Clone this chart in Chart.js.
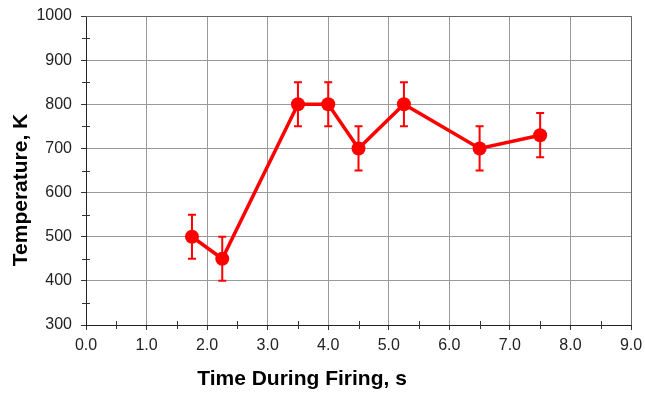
<!DOCTYPE html>
<html>
<head>
<meta charset="utf-8">
<script src="https://cdn.jsdelivr.net/npm/chart.js@4"></script>
<style>
  html, body { margin: 0; padding: 0; background: #fff; }
  canvas { display: block; }
</style>
</head>
<body>
<canvas id="TempChart" width="645" height="398"></canvas>
<script>
// measured temperature during firing, with +/- error
const timeS = [1.75, 2.25, 3.5, 4.0, 4.5, 5.25, 6.5, 7.5];
const tempK = [500, 450, 800, 800, 700, 800, 700, 730];
const errK = [50, 50, 50, 50, 50, 50, 50, 50];

const xTicks = [0, 1, 2, 3, 4, 5, 6, 7, 8, 9];
const yTicks = [300, 400, 500, 600, 700, 800, 900, 1000];

const points = timeS.map((t, i) => ({ x: t, y: tempK[i] }));

const errorBars = {
    id: 'errorBars',
    beforeDatasetsDraw(chart) {
        const ctx = chart.ctx;
        const xs = chart.scales.x, ys = chart.scales.y;
        ctx.save();
        ctx.strokeStyle = '#ff0000';
        ctx.lineWidth = 2;
        timeS.forEach((t, i) => {
            const px = xs.getPixelForValue(t);
            const top = ys.getPixelForValue(tempK[i] + errK[i]);
            const bot = ys.getPixelForValue(tempK[i] - errK[i]);
            ctx.beginPath();
            ctx.moveTo(px, top); ctx.lineTo(px, bot);
            ctx.moveTo(px - 4, top); ctx.lineTo(px + 4, top);
            ctx.moveTo(px - 4, bot); ctx.lineTo(px + 4, bot);
            ctx.stroke();
        });
        ctx.restore();
    }
};

// frame, minor ticks and axis titles
const decorations = {
    id: 'decorations',
    afterDraw(chart) {
        const ctx = chart.ctx;
        const a = chart.chartArea;
        const xs = chart.scales.x, ys = chart.scales.y;
        ctx.save();
        ctx.strokeStyle = '#666';
        ctx.lineWidth = 1;
        ctx.beginPath();
        ctx.moveTo(a.left, a.top + 0.5); ctx.lineTo(a.right + 0.5, a.top + 0.5);
        ctx.lineTo(a.right + 0.5, a.bottom);
        ctx.stroke();

        ctx.strokeStyle = '#333';
        ctx.beginPath();
        for (let v = 350; v < 1000; v += 100) {
            const py = Math.round(ys.getPixelForValue(v)) + 0.5;
            ctx.moveTo(a.left - 4, py); ctx.lineTo(a.left + 4, py);
        }
        for (let v = 0.5; v < 9; v += 1) {
            const px = Math.round(xs.getPixelForValue(v)) + 0.5;
            ctx.moveTo(px, a.bottom - 4); ctx.lineTo(px, a.bottom + 4);
        }
        ctx.stroke();

        ctx.fillStyle = '#000';
        ctx.font = 'bold 21px "Liberation Sans", Arial, sans-serif';
        ctx.textAlign = 'center';
        ctx.textBaseline = 'middle';
        ctx.fillText('Time During Firing, s', 302, 379);
        ctx.translate(21, 190);
        ctx.rotate(-Math.PI / 2);
        ctx.fillText('Temperature, K', 0, 0);
        ctx.restore();
    }
};

const temp = document.getElementById('TempChart').getContext('2d');
const TempChart = new Chart(temp, {
    type: 'line',
    data: {
        datasets: [{
            data: points,
            borderColor: '#ff0000',
            backgroundColor: '#ff0000',
            borderWidth: 3.5,
            pointRadius: 7,
            pointBorderWidth: 0,
            tension: 0
        }]
    },
    options: {
        responsive: false,
        animation: false,
        devicePixelRatio: 1,
        layout: { padding: { top: 16, right: 14, left: 0, bottom: 0 } },
        plugins: {
            legend: { display: false },
            tooltip: { enabled: false }
        },
        scales: {
            x: {
                type: 'linear',
                min: 0,
                max: 9,
                afterBuildTicks: s => { s.ticks = xTicks.map(v => ({ value: v })); },
                afterFit: s => { s.height = 73; s.paddingLeft = 0; s.paddingRight = 0; },
                ticks: {
                    color: '#222',
                    padding: 6,
                    font: { family: '"Liberation Sans", Arial, sans-serif', size: 16 },
                    callback: v => v.toFixed(1)
                },
                grid: { color: '#999', tickColor: '#333', tickLength: 5 },
                border: { color: '#222' }
            },
            y: {
                min: 300,
                max: 1000,
                afterBuildTicks: s => { s.ticks = yTicks.map(v => ({ value: v })); },
                afterFit: s => { s.width = 86; s.paddingTop = 0; s.paddingBottom = 0; },
                ticks: {
                    color: '#222',
                    padding: 9,
                    font: { family: '"Liberation Sans", Arial, sans-serif', size: 16 },
                    callback: v => String(v)
                },
                grid: { color: '#999', tickColor: '#333', tickLength: 5 },
                border: { color: '#222' }
            }
        }
    },
    plugins: [errorBars, decorations]
});
</script>
</body>
</html>
